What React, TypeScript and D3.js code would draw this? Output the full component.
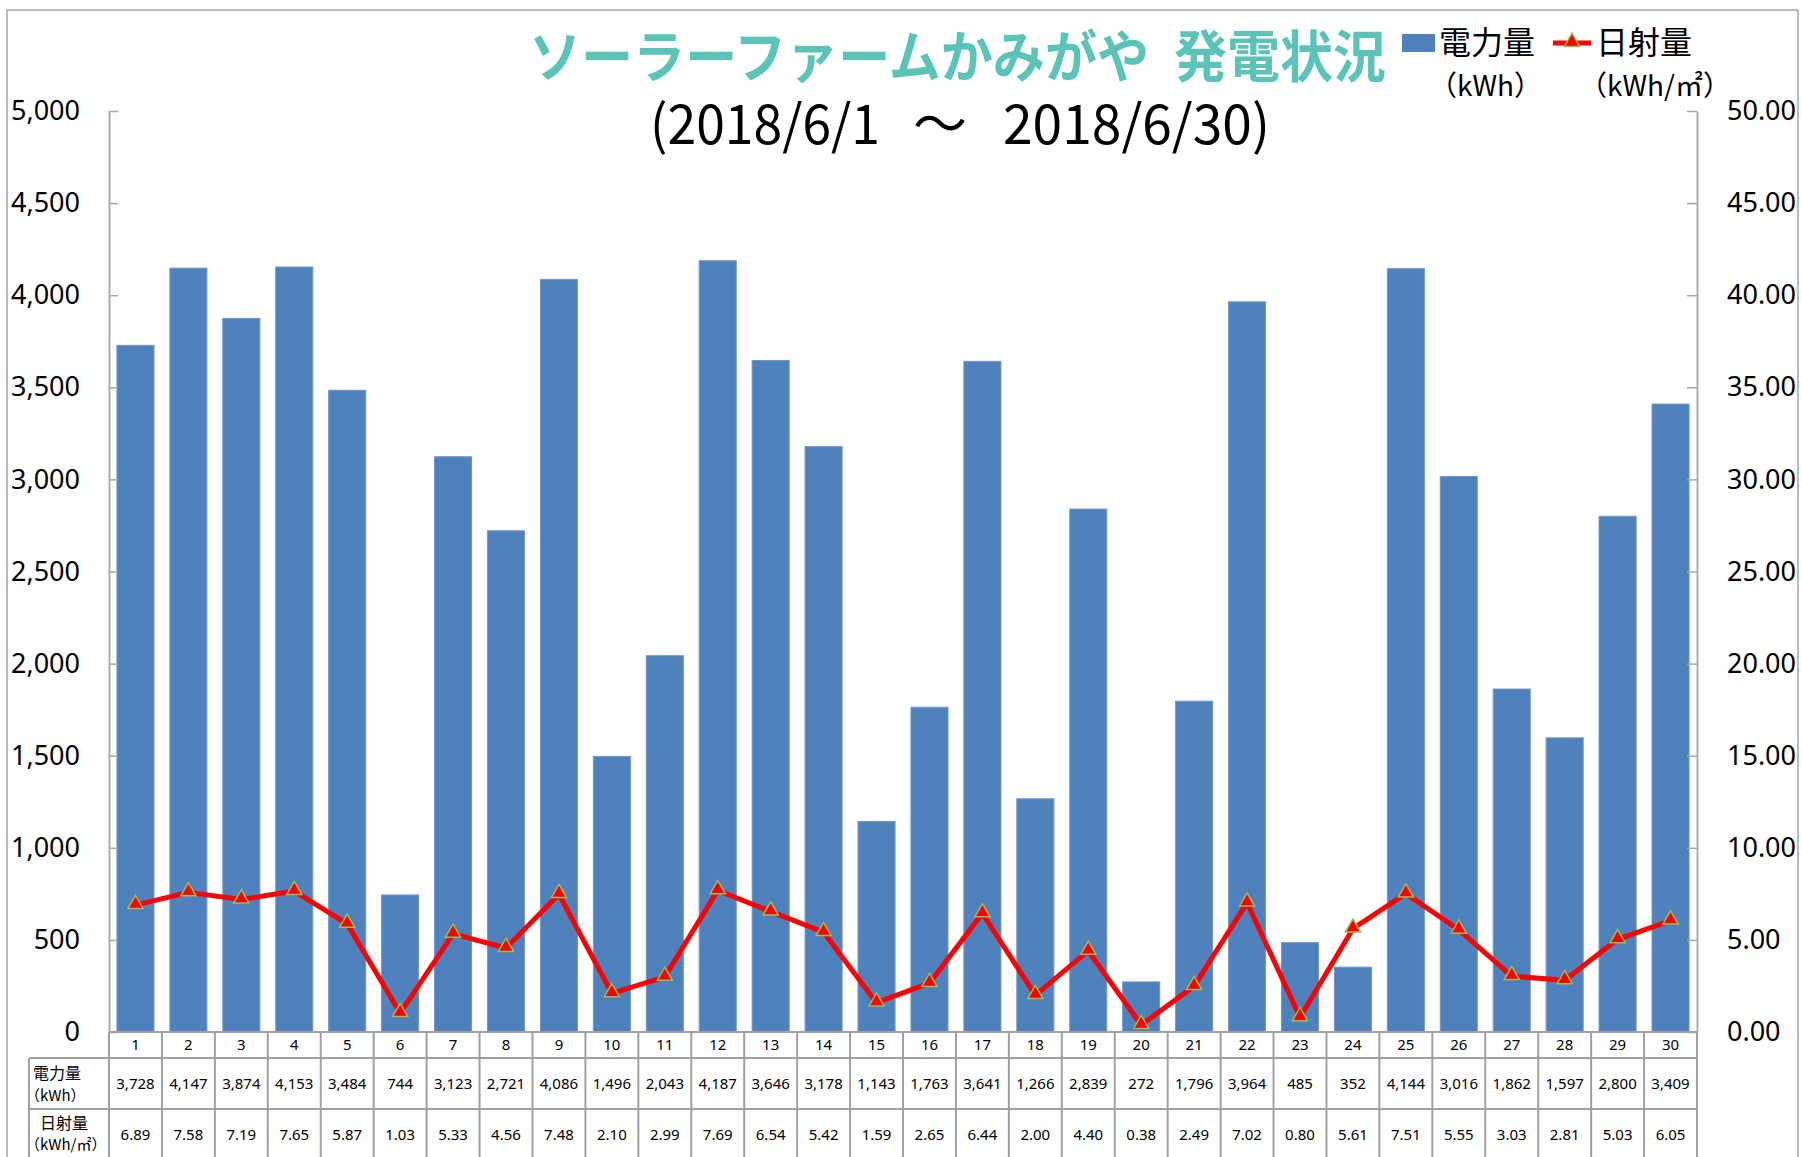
import React, { useEffect, useRef } from 'react';
import * as d3 from 'd3';

// categories (day of month)
const days = ['1', '2', '3', '4', '5', '6', '7', '8', '9', '10', '11', '12', '13', '14', '15',
  '16', '17', '18', '19', '20', '21', '22', '23', '24', '25', '26', '27', '28', '29', '30'];

// 電力量 (kWh)
const power = [3728, 4147, 3874, 4153, 3484, 744, 3123, 2721, 4086, 1496, 2043, 4187, 3646, 3178, 1143,
  1763, 3641, 1266, 2839, 272, 1796, 3964, 485, 352, 4144, 3016, 1862, 1597, 2800, 3409];

// 日射量 (kWh/㎡)
const irradiance = [6.89, 7.58, 7.19, 7.65, 5.87, 1.03, 5.33, 4.56, 7.48, 2.10, 2.99, 7.69, 6.54, 5.42, 1.59,
  2.65, 6.44, 2.00, 4.40, 0.38, 2.49, 7.02, 0.80, 5.61, 7.51, 5.55, 3.03, 2.81, 5.03, 6.05];

const leftTicks = [0, 500, 1000, 1500, 2000, 2500, 3000, 3500, 4000, 4500, 5000];
const rightTicks = [0, 5, 10, 15, 20, 25, 30, 35, 40, 45, 50];

const W = 1802;
const H = 1157;
const JP = '"Noto Sans CJK JP", "Noto Sans", sans-serif';
const NUM = '"Noto Sans", sans-serif';

export default function App() {
  const svgRef = useRef<SVGSVGElement>(null);

  useEffect(() => {
    if (!svgRef.current) return;
    const svg = d3.select(svgRef.current);
    svg.selectAll('*').remove();

    const left = 109;
    const right = 1697;
    const top = 111;
    const bottom = 1032;
    const gridColor = '#a0a0a0';

    // outer chart border
    svg.append('rect')
      .attr('x', 7).attr('y', 10)
      .attr('width', 1791).attr('height', 1160)
      .attr('fill', 'white')
      .attr('stroke', '#a6a6a6')
      .attr('stroke-width', 1.5);

    const x = d3.scaleBand<string>()
      .domain(days)
      .range([left, right])
      .paddingInner(0.3)
      .paddingOuter(0.15);
    const step = x.step();

    const y = d3.scaleLinear().domain([0, 5000]).range([bottom, top]);
    const y2 = d3.scaleLinear().domain([0, 50]).range([bottom, top]);

    // bars
    svg.append('g')
      .selectAll('rect')
      .data(power)
      .join('rect')
      .attr('x', (d, i) => x(days[i])!)
      .attr('y', d => y(d))
      .attr('width', x.bandwidth())
      .attr('height', d => bottom - y(d))
      .attr('fill', '#4F81BD')
      .attr('stroke', '#6f97c9')
      .attr('stroke-width', 1);

    // left axis
    const gl = svg.append('g')
      .attr('transform', `translate(${left},0)`)
      .call(d3.axisLeft(y).tickValues(leftTicks).tickFormat(d3.format(',')).tickSizeInner(-9).tickSizeOuter(0).tickPadding(29));
    gl.select('.domain').attr('stroke', '#a6a6a6').attr('stroke-width', 1.8);
    gl.selectAll('.tick line').attr('stroke', '#a6a6a6').attr('stroke-width', 1.5);
    gl.selectAll('.tick text').attr('font-family', NUM).attr('font-size', 27).attr('fill', '#000');

    // right axis
    const gr = svg.append('g')
      .attr('transform', `translate(${right},0)`)
      .call(d3.axisRight(y2).tickValues(rightTicks).tickFormat(d3.format('.2f')).tickSizeInner(-10).tickSizeOuter(0).tickPadding(30));
    gr.select('.domain').attr('stroke', '#a6a6a6').attr('stroke-width', 1.8);
    gr.selectAll('.tick line').attr('stroke', '#a6a6a6').attr('stroke-width', 1.5);
    gr.selectAll('.tick text').attr('font-family', NUM).attr('font-size', 27).attr('fill', '#000');

    // irradiance line
    const line = d3.line<number>()
      .x((d, i) => x(days[i])! + x.bandwidth() / 2)
      .y(d => y2(d));
    svg.append('path')
      .datum(irradiance)
      .attr('d', line)
      .attr('fill', 'none')
      .attr('stroke', '#FF0000')
      .attr('stroke-width', 5)
      .attr('stroke-linejoin', 'round');

    const tri = d3.symbol().type(d3.symbolTriangle).size(100);
    svg.append('g')
      .selectAll('path')
      .data(irradiance)
      .join('path')
      .attr('d', tri)
      .attr('transform', (d, i) => `translate(${x(days[i])! + x.bandwidth() / 2},${y2(d) - 1})`)
      .attr('fill', '#FF0000')
      .attr('stroke', '#9BBB59')
      .attr('stroke-width', 1.5);

    // data table
    const r0 = bottom;
    const r1 = 1058;
    const r2 = 1109;
    const r3 = 1160;
    const tbl = svg.append('g');
    const hline = (yy: number, x0: number) => tbl.append('line')
      .attr('x1', x0).attr('x2', right).attr('y1', yy).attr('y2', yy)
      .attr('stroke', gridColor).attr('stroke-width', 2);
    hline(r1, 29);
    hline(r2, 29);
    tbl.append('line').attr('x1', 29).attr('x2', 29).attr('y1', r1).attr('y2', r3)
      .attr('stroke', gridColor).attr('stroke-width', 2);
    tbl.selectAll('line.col')
      .data(days)
      .join('line')
      .attr('class', 'col')
      .attr('x1', d => x(d)! - (step - x.bandwidth()) / 2)
      .attr('x2', d => x(d)! - (step - x.bandwidth()) / 2)
      .attr('y1', r0).attr('y2', r3)
      .attr('stroke', gridColor).attr('stroke-width', 2);
    tbl.append('line').attr('x1', right).attr('x2', right).attr('y1', r0).attr('y2', r3)
      .attr('stroke', gridColor).attr('stroke-width', 2);
    tbl.append('line').attr('x1', left).attr('x2', right).attr('y1', r0).attr('y2', r0)
      .attr('stroke', gridColor).attr('stroke-width', 2);

    const cx = (i: number) => x(days[i])! + x.bandwidth() / 2;
    const cellText = (vals: string[], yy: number) => tbl.append('g')
      .selectAll('text')
      .data(vals)
      .join('text')
      .attr('x', (d, i) => cx(i))
      .attr('y', yy)
      .attr('dy', '0.36em')
      .attr('text-anchor', 'middle')
      .attr('font-family', NUM)
      .attr('font-size', 15)
      .attr('fill', '#000')
      .text(d => d);
    cellText(days, (r0 + r1) / 2);
    cellText(power.map(d3.format(',')), (r1 + r2) / 2);
    cellText(irradiance.map(d3.format('.2f')), 1135);

    // row headers
    const hdr = (t: string, xx: number, yy: number, anchor: string, size: number) => tbl.append('text')
      .attr('x', xx).attr('y', yy)
      .attr('text-anchor', anchor)
      .attr('font-family', JP)
      .attr('font-size', size)
      .attr('fill', '#000')
      .text(t);
    hdr('電力量', 33, 1079, 'start', 16);
    hdr('（kWh）', 25, 1101, 'start', 15);
    hdr('日射量', 64, 1129, 'middle', 16);
    hdr('（kWh/㎡）', 25, 1150, 'start', 15);

    // title (two parts)
    const title = (t: string, xx: number, len: number) => svg.append('text')
      .attr('x', xx).attr('y', 77)
      .attr('font-family', JP)
      .attr('font-weight', 'bold')
      .attr('font-size', 56)
      .attr('fill', '#5BC4B8')
      .attr('textLength', len)
      .attr('lengthAdjust', 'spacingAndGlyphs')
      .text(t);
    title('ソーラーファームかみがや', 529, 620);
    title('発電状況', 1174, 212);

    // subtitle (period)
    const sub = (t: string, xx: number, len: number | null) => {
      const s = svg.append('text')
        .attr('x', xx).attr('y', 144)
        .attr('font-family', JP)
        .attr('font-size', 54)
        .attr('fill', '#000')
        .text(t);
      if (len) s.attr('textLength', len).attr('lengthAdjust', 'spacingAndGlyphs');
    };
    sub('(2018/6/1', 650, 230);
    sub('～', 913, null);
    sub('2018/6/30)', 1003, 267);

    // legend
    const lg = svg.append('g');
    lg.append('rect')
      .attr('x', 1402).attr('y', 34).attr('width', 33).attr('height', 18)
      .attr('fill', '#4F81BD');
    lg.append('text').attr('x', 1439).attr('y', 54)
      .attr('font-family', JP).attr('font-size', 32).attr('fill', '#000')
      .text('電力量');
    lg.append('text').attr('x', 1429).attr('y', 96)
      .attr('font-family', JP).attr('font-size', 28).attr('fill', '#000')
      .text('（kWh）');
    lg.append('line')
      .attr('x1', 1553).attr('x2', 1591).attr('y1', 43).attr('y2', 43)
      .attr('stroke', '#FF0000').attr('stroke-width', 5);
    lg.append('path')
      .attr('d', tri)
      .attr('transform', 'translate(1572,42)')
      .attr('fill', '#FF0000')
      .attr('stroke', '#9BBB59')
      .attr('stroke-width', 1.5);
    lg.append('text').attr('x', 1596).attr('y', 54)
      .attr('font-family', JP).attr('font-size', 32).attr('fill', '#000')
      .text('日射量');
    lg.append('text').attr('x', 1579).attr('y', 96)
      .attr('font-family', JP).attr('font-size', 28).attr('fill', '#000')
      .text('（kWh/㎡）');
  }, []);

  return (
    <svg
      ref={svgRef}
      width={W}
      height={H}
      style={{ position: 'absolute', left: 0, top: 0, display: 'block', background: 'white' }}
    />
  );
}
